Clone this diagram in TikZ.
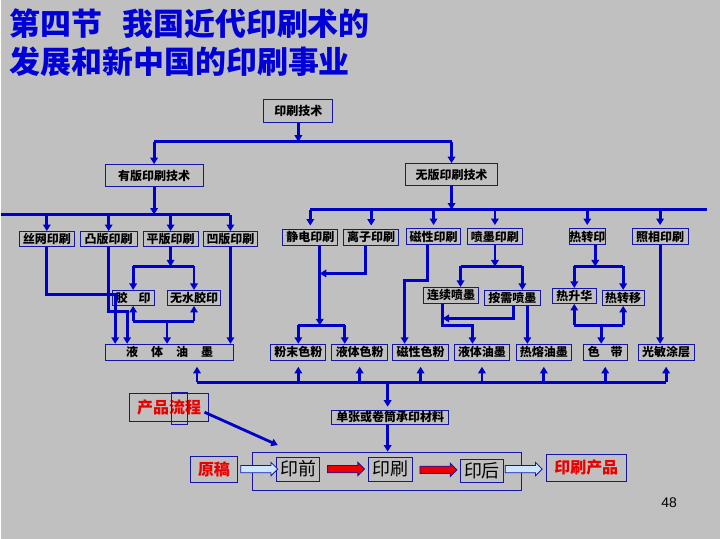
\documentclass[tikz,border=0pt]{standalone}
\usepackage{fontspec}
\usepackage{xcolor}
\usepackage{tikz}
\usetikzlibrary{positioning, shapes, arrows, calc, arrows.meta}
\newfontfamily\cjk{Noto Sans CJK SC}
\setsansfont{Liberation Sans}
\definecolor{slidebg}{RGB}{192,192,192}
\definecolor{lineblue}{RGB}{0,0,200}
\definecolor{boxblue}{RGB}{20,20,170}
\definecolor{titleblue}{RGB}{0,0,215}
\definecolor{paleblue}{RGB}{204,230,255}
\definecolor{flowred}{RGB}{235,0,0}

\begin{document}
\begin{tikzpicture}[x=1pt, y=-1pt,
    box/.style={draw=boxblue, line width=1pt, inner sep=0pt, minimum height=15pt, font=\cjk\bfseries\fontsize{12}{12}\selectfont},
    link/.style={draw=lineblue, line width=2.8pt},
    arr/.style={link, -{Triangle[length=6.5pt,width=7.5pt]}},
    flow/.style={single arrow, draw=boxblue, line width=0.8pt, inner sep=3.3pt, single arrow head extend=3pt, minimum height=37pt}]
        % slide background
        \fill[slidebg] (0,0) rectangle (720,540);

        % title
        \node[anchor=west, inner sep=0pt, text=titleblue, font=\cjk\bfseries\fontsize{31}{31}\selectfont] (t1) at (8,23.5) {第四节\hspace{20pt}我国近代印刷术的};
        \node[anchor=west, inner sep=0pt, text=titleblue, font=\cjk\bfseries\fontsize{31}{31}\selectfont] (t2) at (8,61.5) {发展和新中国的印刷事业};

        % top levels
        \node[box, minimum width=69pt, minimum height=23pt] (root) at (297.5,111.5) {印刷技术};
        \node[box, minimum width=98pt, minimum height=22pt] (yb) at (153,176) {有版印刷技术};
        \node[box, minimum width=92pt, minimum height=22pt] (wb) at (451,175) {无版印刷技术};

        % printing methods
        \node[box, minimum width=55pt] (sw) at (45.5,239.5) {丝网印刷};
        \node[box, minimum width=57pt] (tb) at (107.5,239.5) {凸版印刷};
        \node[box, minimum width=55pt] (pb) at (169.5,239.5) {平版印刷};
        \node[box, minimum width=55pt] (ab) at (229.5,239.5) {凹版印刷};
        \node[box, minimum width=55pt, minimum height=16pt] (jd) at (309.5,237.5) {静电印刷};
        \node[box, minimum width=55pt, minimum height=16pt] (lz) at (370.5,237.5) {离子印刷};
        \node[box, minimum width=54pt, minimum height=16pt] (cx) at (433,237) {磁性印刷};
        \node[box, minimum width=55pt, minimum height=16pt] (pm) at (494.5,237) {喷墨印刷};
        \node[box, minimum width=34pt, minimum height=16pt] (rz) at (587,237) {热转印};
        \node[box, minimum width=56pt, minimum height=16pt] (zx) at (660,237) {照相印刷};

        % sub methods
        \node[box, minimum width=42pt] (jy) at (132,298.5) {胶\hspace{11pt}印};
        \node[box, minimum width=54pt] (wsj) at (193,298.5) {无水胶印};
        \node[box, minimum width=55pt, minimum height=16pt] (lx) at (450.5,296) {连续喷墨};
        \node[box, minimum width=56pt] (ax) at (512,298.5) {按需喷墨};
        \node[box, minimum width=44pt] (rs) at (574,296.5) {热升华};
        \node[box, minimum width=42pt] (ry) at (623,298.5) {热转移};

        % inks and media
        \node[box, minimum width=129pt, minimum height=16pt] (yt) at (168.5,353) {液\hspace{13pt}体\hspace{13pt}油\hspace{13pt}墨};
        \node[box, minimum width=55pt, minimum height=16pt] (fm) at (297.5,353) {粉末色粉};
        \node[box, minimum width=56pt, minimum height=16pt] (yts) at (359,353) {液体色粉};
        \node[box, minimum width=56pt, minimum height=16pt] (cxf) at (420,353) {磁性色粉};
        \node[box, minimum width=55pt, minimum height=16pt] (ytm) at (481.5,353) {液体油墨};
        \node[box, minimum width=55pt, minimum height=16pt] (rr) at (543.5,353) {热熔油墨};
        \node[box, minimum width=44pt, minimum height=16pt] (sd) at (605,353) {色\hspace{11pt}带};
        \node[box, minimum width=56pt, minimum height=16pt] (gm) at (666,353) {光敏涂层};
        \node[box, minimum width=117pt, minimum height=14pt] (dz) at (389.5,418) {单张或卷筒承印材料};

        % levels and bends
        \coordinate (h0) at (0,142);
        \coordinate (h1) at (0,215);
        \coordinate (h2) at (707,210);
        \coordinate (h3) at (0,267);
        \coordinate (h4) at (0,322);
        \coordinate (h6) at (387,383);
        \coordinate (k1) at (114,295);
        \coordinate (k2) at (126,312);
        \coordinate (j4) at (166,322);
        \coordinate (k3) at (319,326);
        \coordinate (k4) at (344,326);
        \coordinate (k5) at (365,274);
        \coordinate (k6) at (427,281);
        \coordinate (k7) at (404,281);
        \coordinate (k8) at (460,267);
        \coordinate (k9) at (522,267);
        \coordinate (k10) at (442,326);
        \coordinate (k11) at (472,326);
        \coordinate (k12) at (513,319);
        \coordinate (k13) at (527,319);
        \coordinate (k14) at (595,267);
        \coordinate (k15) at (601,326);
        \coordinate (k16) at (196,383);

        % tree
        \draw[arr] (root.south) -- (root.south |- h0);
        \draw[link] (yb.north |- h0) -- (wb.north |- h0);
        \draw[arr] (yb.north |- h0) -- (yb.north);
        \draw[arr] (wb.north |- h0) -- (wb.north);

        \draw[arr] (yb.south) -- (yb.south |- h1);
        \draw[link] (h1) -- (ab.north |- h1);
        \foreach \n in {sw,tb,pb,ab}
          \draw[arr] (\n.north |- h1) -- (\n.north);

        \draw[arr] (wb.south) -- (wb.south |- h2);
        \draw[link] (jd.north |- h2) -- (h2);
        \foreach \n in {jd,lz,cx,pm,rz,zx}
          \draw[arr, shorten >=3pt] (\n.north |- h2) -- (\n.north);

        % plate printing to ink
        \draw[arr] (sw.south) |- (k1) -- (yt.north -| k1);
        \draw[arr] (tb.south) |- (k2) -- (yt.north -| k2);
        \draw[arr] (pb.south) -- (pb.south |- h3);
        \draw[link] (jy.north |- h3) -- (wsj.north |- h3);
        \draw[arr] (jy.north |- h3) -- (jy.north);
        \draw[arr] (wsj.north |- h3) -- (wsj.north);
        \draw[link] (jy.south |- h4) -- (wsj.south |- h4);
        \draw[arr] (jy.south |- h4) -- (jy.south);
        \draw[arr] (wsj.south |- h4) -- (wsj.south);
        \draw[arr] (j4) -- (yt.north -| j4);
        \draw[arr] (ab.south) -- (yt.north -| ab.south);

        % plateless printing to media
        \draw[arr] (jd.south -| k3) -- (k3);
        \draw[link] (fm.north |- k3) -- (k4);
        \draw[arr] (fm.north |- k3) -- (fm.north);
        \draw[arr] (k4) -- (yts.north -| k4);
        \draw[arr] (lz.south -| k5) -- (k5) -- (k5 -| k3);
        \draw[arr] (cx.south -| k6) -- (k6) -- (k7) -- (cxf.north -| k7);
        \draw[arr] (pm.south) -- (pm.south |- k8);
        \draw[link] (k8) -- (k9);
        \draw[arr] (k8) -- (lx.north -| k8);
        \draw[arr] (k9) -- (ax.north -| k9);
        \draw[arr] (lx.south -| k10) -- (k10) -- (k11) -- (ytm.north -| k11);
        \draw[arr] (ax.south -| k12) -- (k12) -- (k12 -| k10);
        \draw[arr] (ax.south -| k13) -- (rr.north -| k13);
        \draw[arr] (rz.south -| k14) -- (k14);
        \draw[link] (rs.north |- k14) -- (ry.north |- k14);
        \draw[arr] (rs.north |- k14) -- (rs.north);
        \draw[arr] (ry.north |- k14) -- (ry.north);
        \draw[link] (rs.south |- k15) -- (ry.south |- k15);
        \draw[arr] (rs.south |- k15) -- (rs.south);
        \draw[arr] (ry.south |- k15) -- (ry.south);
        \draw[arr] (k15) -- (sd.north -| k15);
        \draw[arr] (zx.south) -- (gm.north -| zx.south);

        % substrate bar
        \draw[link] (k16) -- (gm.south |- h6);
        \draw[arr, shorten >=6pt] (k16) -- (yt.south -| k16);
        \foreach \n in {fm,yts,cxf,ytm,rr,sd,gm}
          \draw[arr, shorten >=6pt] (\n.south |- h6) -- (\n.south);
        \draw[arr, shorten >=3pt] (h6) -- (dz.north -| h6);

        % product flow
        \node[draw=boxblue, line width=1pt, inner sep=0pt, minimum width=269pt, minimum height=38pt] (lc) at (386.5,472) {};
        \draw[arr] (dz.south -| h6) -- (lc.north -| h6);
        \node[box, minimum width=80pt, minimum height=28pt, text=flowred, font=\cjk\bfseries\fontsize{16}{16}\selectfont] (pl) at (168,408) {产品流程};
        \node[draw=boxblue, line width=1pt, inner sep=0pt, minimum width=16pt, minimum height=32pt] (mk) at (178,409) {};
        \coordinate (tip) at (277,446);
        \draw[arr] ([xshift=-5pt, yshift=-5pt]pl.east) -- (tip);

        \node[box, minimum width=48pt, minimum height=26pt, text=flowred, font=\cjk\bfseries\fontsize{16}{16}\selectfont] (yg) at (213,470) {原稿};
        \node[box, minimum width=43pt, minimum height=24pt, font=\cjk\fontsize{18}{18}\selectfont] (yq) at (297.5,470) {印前};
        \node[box, minimum width=44pt, minimum height=24pt, font=\cjk\fontsize{18}{18}\selectfont] (ys) at (390,470) {印刷};
        \node[box, minimum width=43pt, minimum height=23pt, font=\cjk\fontsize{18}{18}\selectfont] (yh) at (481.5,471.5) {印后};
        \node[box, minimum width=80pt, minimum height=27pt, text=flowred, font=\cjk\bfseries\fontsize{16}{16}\selectfont] (cp) at (586,468.5) {印刷产品};

        \node[flow, fill=paleblue] (a1) at ($(yg.east)!0.5!(yq.west)$) {};
        \node[flow, fill=flowred] (a2) at ($(yq.east)!0.5!(ys.west)$) {};
        \node[flow, fill=flowred] (a3) at ($(ys.east)!0.5!(yh.west)$) {};
        \node[flow, fill=paleblue] (a4) at ([xshift=-3pt]$(yh.east)!0.5!(cp.west)$) {};

        % page number
        \node[font=\sffamily\fontsize{14}{14}\selectfont] (pg) at (669,504) {48};
\end{tikzpicture}
\end{document}
